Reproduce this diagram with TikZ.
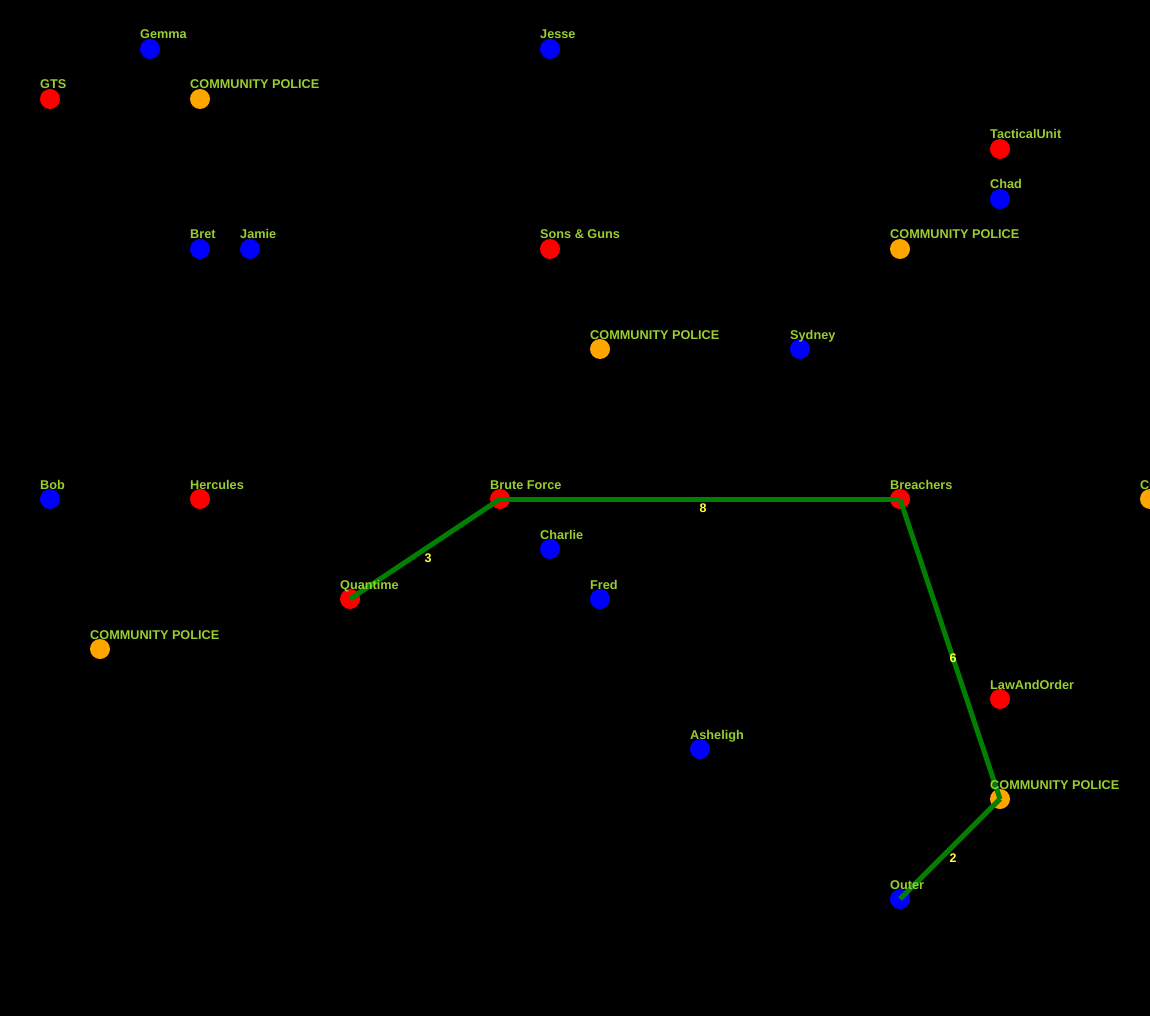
\documentclass[tikz,border=0pt]{standalone}
\usepackage{fontspec}
\setmainfont{Liberation Sans}
\definecolor{lbl}{RGB}{154,205,50}
\definecolor{elbl}{RGB}{255,255,60}
\definecolor{nred}{RGB}{255,0,0}
\definecolor{nblue}{RGB}{0,0,255}
\definecolor{norange}{RGB}{255,165,0}
\definecolor{edgegreen}{RGB}{0,128,0}
\begin{document}
\begin{tikzpicture}[x=1pt,y=-1pt,
  dot/.style={circle,inner sep=0pt,minimum size=20pt,draw=none},
  rdot/.style={dot,fill=nred},
  bdot/.style={dot,fill=nblue},
  odot/.style={dot,fill=norange},
  nlabel/.style={anchor=base west,inner sep=0pt,text=lbl,font=\fontsize{12.7}{14}\selectfont\bfseries},
  link/.style={draw=edgegreen,line width=5pt},
  elabel/.style={inner sep=0pt,text=elbl,font=\fontsize{12.5}{14}\selectfont\bfseries}]
\fill[black] (0,0) rectangle (1150,1016);
\useasboundingbox (0,0) rectangle (1150,1016);
\clip (0,0) rectangle (1150,1016);
% nodes
\foreach \n/\x/\y/\s/\t in {
  gemma/150/49/bdot/Gemma,
  jesse/550/49/bdot/Jesse,
  gts/50/99/rdot/GTS,
  cpa/200/99/odot/COMMUNITY POLICE,
  tactical/1000/149/rdot/TacticalUnit,
  chad/1000/199/bdot/Chad,
  bret/200/249/bdot/Bret,
  jamie/250/249/bdot/Jamie,
  sons/550/249/rdot/Sons \& Guns,
  cpb/900/249/odot/COMMUNITY POLICE,
  cpc/600/349/odot/COMMUNITY POLICE,
  sydney/800/349/bdot/Sydney,
  bob/50/499/bdot/Bob,
  hercules/200/499/rdot/Hercules,
  brute/500/499/rdot/Brute Force,
  breachers/900/499/rdot/Breachers,
  cpd/1150/499/odot/COMMUNITY POLICE,
  charlie/550/549/bdot/Charlie,
  quantime/350/599/rdot/Quantime,
  fred/600/599/bdot/Fred,
  cpe/100/649/odot/COMMUNITY POLICE,
  law/1000/699/rdot/LawAndOrder,
  asheligh/700/749/bdot/Asheligh,
  cpf/1000/799/odot/COMMUNITY POLICE,
  outer/900/899/bdot/Outer}
{
  \node[\s] (\n) at (\x,\y) {};
}
% edges
\draw[link] (quantime.center) -- (brute.center) coordinate[pos=0.5] (m1);
\draw[link] (brute.center) -- (breachers.center) coordinate[pos=0.5] (m2);
\draw[link] (breachers.center) -- (cpf.center) coordinate[pos=0.5] (m3);
\draw[link] (cpf.center) -- (outer.center) coordinate[pos=0.5] (m4);
\node[elabel] (l1) at ([shift={(3,9)}]m1) {3};
\node[elabel] (l2) at ([shift={(3,9)}]m2) {8};
\node[elabel] (l3) at ([shift={(3,9)}]m3) {6};
\node[elabel] (l4) at ([shift={(3,9)}]m4) {2};
% labels
\foreach \n/\t in {
  gemma/Gemma, jesse/Jesse, gts/GTS, cpa/COMMUNITY POLICE,
  tactical/TacticalUnit, chad/Chad, bret/Bret, jamie/Jamie,
  sons/Sons \& Guns, cpb/COMMUNITY POLICE, cpc/COMMUNITY POLICE,
  sydney/Sydney, bob/Bob, hercules/Hercules, brute/Brute Force,
  breachers/Breachers, cpd/COMMUNITY POLICE, charlie/Charlie,
  quantime/Quantime, fred/Fred, cpe/COMMUNITY POLICE, law/LawAndOrder,
  asheligh/Asheligh, cpf/COMMUNITY POLICE, outer/Outer}
{
  \node[nlabel] (\n-t) at ([shift={(-10,-10)}]\n.center) {\t};
}
\end{tikzpicture}
\end{document}
